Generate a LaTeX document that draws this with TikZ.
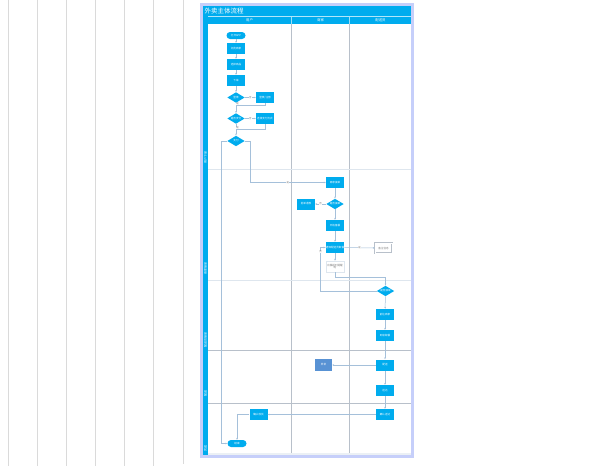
\documentclass[tikz,border=0pt]{standalone}
\usepackage{fontspec}
\newfontfamily\cjk{Noto Sans CJK SC}
\usetikzlibrary{shapes.geometric,arrows.meta}
\definecolor{flowblue}{RGB}{0,172,238}
\definecolor{darkblue}{RGB}{88,146,212}
\definecolor{framec}{RGB}{198,207,250}
\definecolor{gridgrey}{RGB}{218,218,218}
\definecolor{lanegrey}{RGB}{184,192,202}
\definecolor{lanefaint}{RGB}{222,230,238}
\definecolor{linkc}{RGB}{165,192,218}
\begin{document}
\begin{tikzpicture}[x=1pt,y=-1pt,
  every node/.style={font=\cjk\fontsize{2.6}{3}\selectfont, inner sep=0pt},
  proc/.style={rectangle, fill=flowblue, text=white, minimum width=18pt, minimum height=11pt},
  alt/.style={rectangle, fill=darkblue, text=white, minimum width=17pt, minimum height=12pt},
  note/.style={rectangle, draw=lanegrey, line width=0.3pt, double=white, double distance=0.8pt, fill=white, text=gray, minimum width=17pt, minimum height=10pt},
  hint/.style={rectangle, draw=lanefaint, line width=0.5pt, fill=white, text=gray, minimum width=18pt, minimum height=11pt, align=center},
  term/.style={rectangle, rounded corners=3.5pt, fill=flowblue, text=white, minimum width=19pt, minimum height=7pt},
  dec/.style={diamond, fill=flowblue, text=white, minimum width=17.5pt, minimum height=10.5pt, aspect=1.7},
  link/.style={draw=linkc, line width=0.5pt, -{Stealth[length=2pt,width=1.6pt]}},
  plain/.style={draw=linkc, line width=0.5pt},
  tag/.style={font=\cjk\fontsize{2.4}{3}\selectfont, text=gray, fill=white, inner sep=0.3pt},
  lane/.style={font=\cjk\fontsize{3}{3}\selectfont, text=white, rotate=90, anchor=east}]
\useasboundingbox (0,0) rectangle (608,466);

% ruled guide lines on the left of the page
\foreach \gx in {8.5,37.5,66.5,95.5,124.5,153.5}
  \draw[gridgrey, line width=1pt] (\gx,0) -- (\gx,466);
\draw[gridgrey, line width=1pt] (183.3,0) -- (183.3,464);

% pool frame
\draw[framec, line width=2.6pt, fill=white] (201.5,4.2) rectangle (412.2,456.2);
\fill[lanefaint!60] (203,452.5) rectangle (411,455);
\fill[flowblue] (203,5.5) rectangle (411,23.5);
\fill[flowblue] (203,23.5) rectangle (208,455);
\draw[white!70!flowblue, line width=0.4pt] (208,16.5) -- (411,16.5);
\node[font=\cjk\fontsize{6.5}{7}\selectfont, text=white, anchor=west] (title) at (204.5,11) {外卖主体流程};

% column heads and column lines
\node[font=\cjk\fontsize{3.4}{4}\selectfont, text=white] (hUser) at (249.5,20) {用户};
\node[font=\cjk\fontsize{3.4}{4}\selectfont, text=white] (hShop) at (320.5,20) {商家};
\node[font=\cjk\fontsize{3.4}{4}\selectfont, text=white] (hRider) at (380.5,20) {配送员};
\draw[white!60!flowblue, line width=0.5pt] (291,16.5) -- (291,23.5) (349.5,16.5) -- (349.5,23.5);
\draw[lanegrey, line width=0.6pt] (291,23.5) -- (291,452.5) (349.5,23.5) -- (349.5,452.5);

% lane separators
\draw[lanefaint, line width=0.6pt] (208,169) -- (411,169) (208,280) -- (411,280);
\draw[lanegrey, line width=0.6pt] (208,350) -- (411,350) (208,403.5) -- (411,403.5);

% lane titles
\node[lane] (l1) at (205.5,151) {用户下单};
\node[lane] (l2) at (205.5,262) {商家接单};
\node[lane] (l3) at (205.5,332) {配送员接单};
\node[lane] (l4) at (205.5,390) {配送};
\node[lane] (l5) at (205.5,445) {完成};

% user lane
\node[term] (start) at (236,35.5) {打开APP};
\node[proc] (browse) at (236,48.5) {浏览商家};
\node[proc] (pick) at (236,64.5) {选择商品};
\node[proc] (order) at (236,80.5) {下单};
\node[dec] (login) at (236,97.5) {登录};
\node[proc] (reg) at (265,97.5) {登录/注册};
\node[dec] (paysel) at (236,118.5) {是否支付};
\node[proc] (payway) at (265,118.5) {选择支付方式};
\node[dec] (pay) at (236,141) {支付};
\coordinate (j1) at (236,105.5);
\coordinate (j2) at (236,129);
\coordinate (payR) at (250,141);
\coordinate (payL) at (221,141);
\coordinate (endL) at (221,443.5);

% shop lane
\node[proc] (take) at (335,182.5) {商家接单};
\node[dec] (accept) at (335,204) {是否接单};
\node[proc] (refuse) at (306,204) {拒单退款};
\node[proc] (cook) at (335,225.5) {开始备餐};
\node[proc] (notify) at (335,247.5) {通知配送员取餐};
\node[note] (memo) at (383.5,248) {备注信息};
\node[hint] (late) at (335,266.5) {出餐超时提醒\\[-0.4pt]呢};
\coordinate (lateB) at (335,277);
\coordinate (notifyL) at (320.5,247.5);

% rider lane
\node[dec] (grab) at (385.5,291) {是否\\接单};
\node[proc] (go) at (385,314.5) {前往商家};
\node[proc] (fetch) at (385,335.5) {到店取餐};
\node[proc] (ship) at (385,365) {配送};
\node[alt] (fail) at (323.5,365) {异常};
\node[proc] (arrive) at (385,390.5) {送达};
\node[proc] (done) at (385,414.5) {确认送达};
\node[proc] (confirm) at (258.5,414.5) {确认收货};
\node[term] (stop) at (237,443.5) {结束};
\coordinate (confL) at (237,414.5);

% connectors
\draw[link] (start) -- (browse);
\draw[link] (browse) -- (pick);
\draw[link] (pick) -- (order);
\draw[link] (order) -- (login);
\draw[link] (login) -- node[tag] {否} (reg);
\draw[plain] (reg.south) |- (j1);
\draw[link] (login) -- (paysel);
\node[tag] at (237.5,104) {是};
\draw[link] (paysel) -- node[tag] {否} (payway);
\draw[plain] (payway.south) |- (j2);
\draw[link] (paysel) -- (pay);
\node[tag] at (237.5,128) {是};
\draw[link] (pay.east) -- (payR) |- node[tag, pos=0.75] {是} (take.west);
\draw[link] (pay.west) -- (payL) -- (endL) -- (stop.west);
\draw[link] (take) -- (accept);
\draw[link] (accept) -- node[tag] {否} (refuse);
\draw[link] (accept) -- (cook);
\draw[link] (cook) -- (notify);
\draw[link] (notify) -- node[tag] {是} (memo);
\draw[link] (notify) -- (late);
\draw[link] (late.south) -- (lateB) -| (grab.north);
\draw[link] (grab.west) -| node[tag, pos=0.95] {否} (notifyL) -- (notify.west);
\draw[link] (grab) -- (go);
\draw[link] (go) -- (fetch);
\draw[link] (fetch) -- (ship);
\draw[link] (ship) -- (fail);
\draw[link] (ship) -- (arrive);
\draw[link] (arrive) -- (done);
\draw[link] (done) -- (confirm);
\draw[link] (confirm.west) -- (confL) -- (stop.north);
\end{tikzpicture}
\end{document}
